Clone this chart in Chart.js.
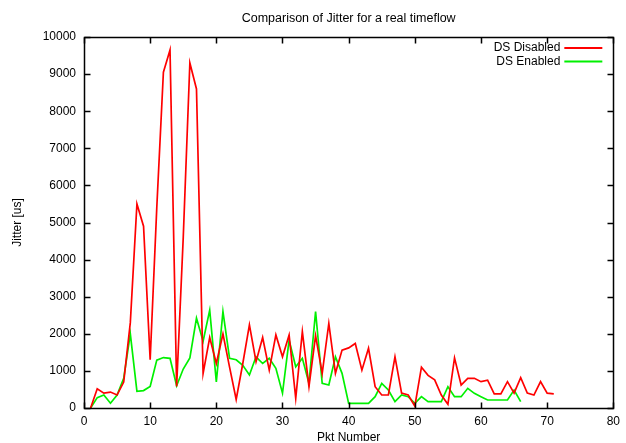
<!DOCTYPE html>
<html>
<head>
<meta charset="utf-8">
<script src="https://cdn.jsdelivr.net/npm/chart.js@4/dist/chart.umd.min.js"></script>
<style>
  html, body { margin: 0; padding: 0; background: #fff; }
  #wrap { width: 626px; height: 443px; }
</style>
</head>
<body>
<div id="wrap"><canvas id="ch_jitter"></canvas></div>
<script>
// Jitter (us) per packet number
const jitterDisabled = [
  0, 520, 400, 430, 350, 700, 2300, 5500, 4900, 1300,
  5400, 9050, 9650, 580, 4600, 9300, 8600, 930, 1900, 1200,
  2000, 1100, 230, 1200, 2240, 1250, 1900, 1020, 1970, 1380,
  1970, 260, 2060, 575, 1950, 935, 2280, 935, 1560, 1620,
  1740, 1020, 1610, 575, 350, 350, 1380, 400, 350, 50,
  1100, 880, 760, 350, 100, 1350, 620, 800, 800, 710,
  750, 380, 380, 710, 400, 820, 400, 350, 710, 400,
  380
];
const jitterEnabled = [
  0, 280, 350, 130, 350, 800, 2000, 450, 470, 580,
  1290, 1360, 1340, 600, 1050, 1350, 2420, 1800, 2640, 700,
  2600, 1340, 1300, 1150, 890, 1380, 1200, 1340, 1070, 400,
  1830, 1110, 1340, 665, 2600, 665, 620, 1380, 935, 125,
  125, 125, 125, 305, 665, 485, 170, 350, 305, 125,
  305, 170, 170, 170, 575, 305, 305, 530, 395, 305,
  215, 215, 215, 215, 485, 170
];
const firstPkt = 1;
const xTicks = [0, 10, 20, 30, 40, 50, 60, 70, 80];
const yTicks = [0, 1000, 2000, 3000, 4000, 5000, 6000, 7000, 8000, 9000, 10000];
const seriesNames = ['DS Disabled', 'DS Enabled'];
const seriesColors = ['#ff0000', '#00f000'];

const FONT = 'Liberation Sans, Arial, Helvetica, sans-serif';
const toPts = arr => arr.map((v, i) => ({ x: firstPkt + i, y: v }));

// gnuplot-ish frame: box + inward ticks on all sides, legend in top-right
const frame = {
  id: 'frame',
  afterDatasetsDraw(chart) {
    const { ctx, chartArea: a, scales } = chart;
    const L = Math.round(a.left) + 0.5, R = Math.round(a.right) + 0.5;
    const T = Math.round(a.top) + 0.5, B = Math.round(a.bottom) + 0.5;
    const tk = 6;
    ctx.save();
    ctx.strokeStyle = '#000';
    ctx.lineWidth = 1.5;
    ctx.strokeRect(L, T, R - L, B - T);
    ctx.beginPath();
    xTicks.forEach(v => {
      const px = Math.round(scales.x.getPixelForValue(v)) + 0.5;
      ctx.moveTo(px, B); ctx.lineTo(px, B - tk);
      ctx.moveTo(px, T); ctx.lineTo(px, T + tk);
    });
    yTicks.forEach(v => {
      const py = Math.round(scales.y.getPixelForValue(v)) + 0.5;
      ctx.moveTo(L, py); ctx.lineTo(L + tk, py);
      ctx.moveTo(R, py); ctx.lineTo(R - tk, py);
    });
    ctx.stroke();

    // legend
    ctx.font = '12px ' + FONT;
    ctx.textAlign = 'right';
    ctx.textBaseline = 'middle';
    chart.data.datasets.forEach((ds, i) => {
      const y = a.top + 11 + i * 13.5;
      ctx.fillStyle = '#000';
      ctx.fillText(ds.label, a.right - 53, y);
      ctx.strokeStyle = ds.borderColor;
      ctx.lineWidth = 2;
      ctx.beginPath();
      ctx.moveTo(a.right - 49, y); ctx.lineTo(a.right - 11, y);
      ctx.stroke();
    });
    ctx.restore();
  }
};

new Chart(document.getElementById('ch_jitter').getContext('2d'), {
  type: 'line',
  data: {
    datasets: [
      { label: seriesNames[0], data: toPts(jitterDisabled), borderColor: seriesColors[0] },
      { label: seriesNames[1], data: toPts(jitterEnabled), borderColor: seriesColors[1] }
    ]
  },
  options: {
    responsive: true,
    maintainAspectRatio: false,
    animation: false,
    layout: { padding: { top: 0, right: 10, bottom: 0, left: 0 } },
    elements: {
      line: { borderWidth: 1.7, tension: 0, fill: false },
      point: { radius: 0 }
    },
    plugins: {
      legend: { display: false },
      tooltip: { enabled: false },
      title: {
        display: true,
        fullSize: false,
        text: 'Comparison of Jitter for a real timeflow',
        color: '#000',
        font: { family: FONT, size: 12.5, weight: 'normal' },
        padding: { top: 11, bottom: 11 }
      }
    },
    scales: {
      x: {
        type: 'linear',
        min: 0, max: 80,
        afterBuildTicks: s => { s.ticks = xTicks.map(v => ({ value: v })); },
        afterFit: s => { s.height = 35; },
        grid: { display: false, drawTicks: false },
        border: { display: false },
        ticks: { color: '#000', padding: 6, maxRotation: 0, callback: v => String(v), font: { family: FONT, size: 12 } },
        title: {
          display: true, text: 'Pkt Number', color: '#000',
          font: { family: FONT, size: 12 }, padding: { top: 0, bottom: -2 }
        }
      },
      y: {
        min: 0, max: 10000,
        afterBuildTicks: s => { s.ticks = yTicks.map(v => ({ value: v })); },
        afterFit: s => { s.width = 84; },
        grid: { display: false, drawTicks: false },
        border: { display: false },
        ticks: { color: '#000', padding: 8, callback: v => String(v), font: { family: FONT, size: 12 } },
        title: {
          display: true, text: 'Jitter [us]', color: '#000',
          font: { family: FONT, size: 12 }, padding: { top: 10, bottom: 0 }
        }
      }
    }
  },
  plugins: [frame]
});
</script>
</body>
</html>
